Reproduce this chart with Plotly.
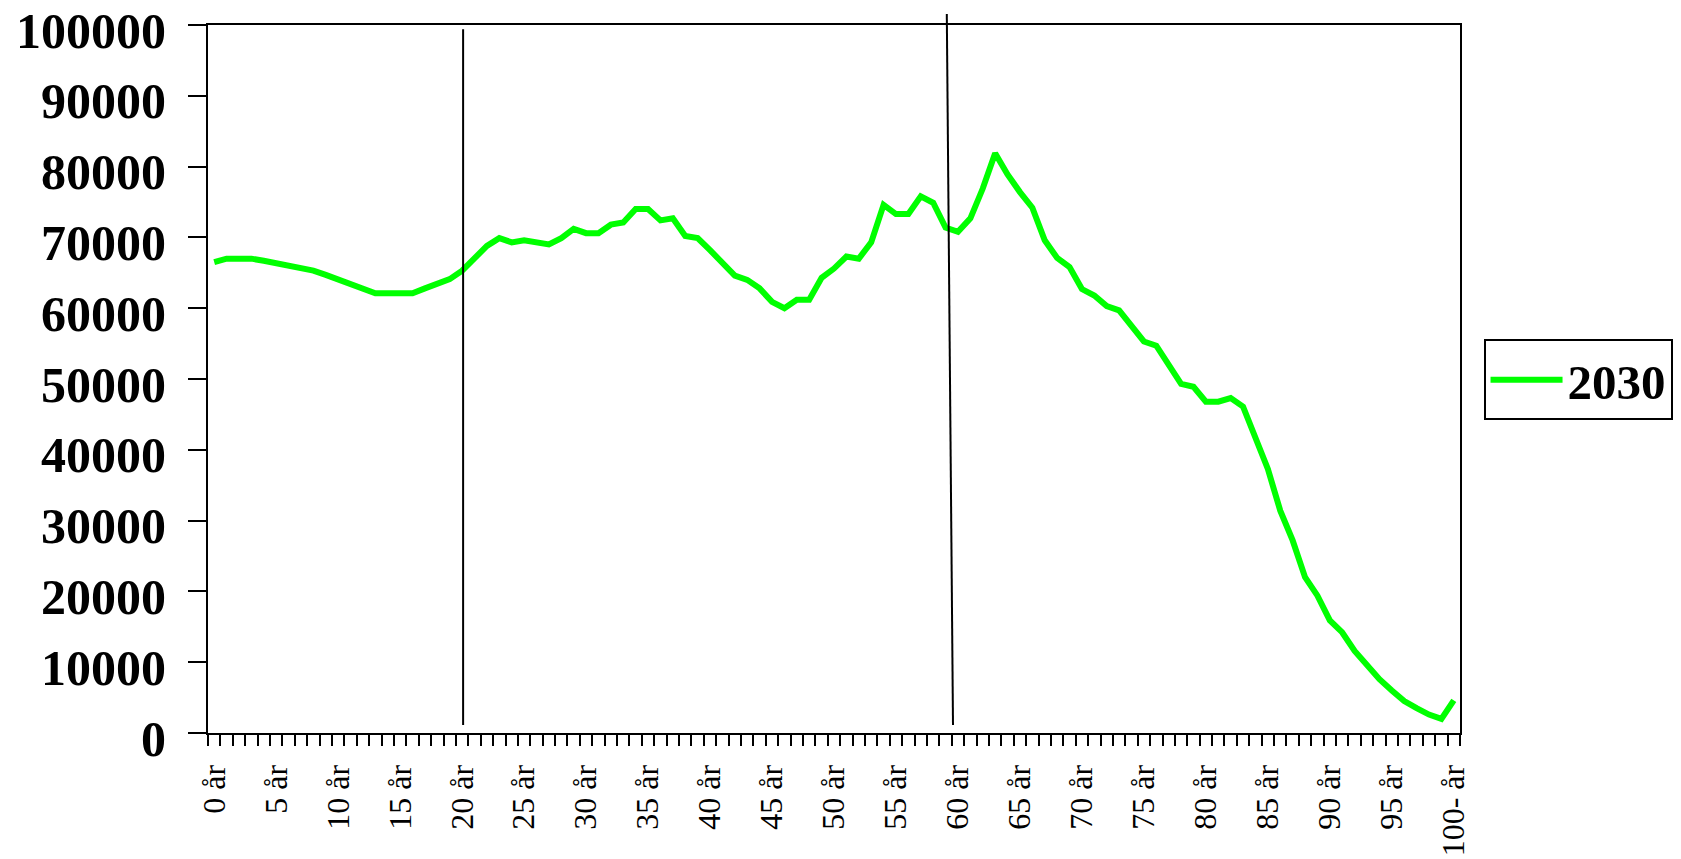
import plotly.graph_objects as go

# Age categories (tick labels)
ages = [f"{i} år" for i in range(100)] + ["100- år"]

# Population 2030 by age
pop_2030 = [
    66500, 67000, 67000, 67000, 66700, 66400, 66100, 65800, 65300, 64700,
    64100, 63400, 62800, 62100, 62100, 62100, 62100, 62800, 63400, 64100,
    65300, 67200, 68800, 69900, 69300, 69600, 69300, 69000, 69900, 71200,
    70600, 70600, 71800, 72100, 74000, 74000, 72400, 72700, 70200, 69900,
    68200, 66400, 64600, 64000, 62800, 60900, 60000, 61200, 61200, 64300,
    65600, 67300, 67000, 69300, 74600, 73300, 73300, 75800, 74900, 71400,
    70800, 72700, 76900, 81900, 78900, 76400, 74200, 69600, 67100, 65800,
    62700, 61800, 60300, 59700, 57500, 55300, 54700, 52000, 49300, 48900,
    46800, 46800, 47300, 46100, 41800, 37300, 31400, 27200, 22000, 19400,
    15900, 14200, 11600, 9600, 7600, 6000, 4500, 3500, 2600, 2000,
    4600,
]

y_ticks = [0, 10000, 20000, 30000, 40000, 50000, 60000, 70000, 80000, 90000, 100000]

series_name = "2030"
label_step = 5

x_idx = list(range(len(ages)))

fig = go.Figure()
fig.add_trace(go.Scatter(
    x=x_idx, y=pop_2030, mode="lines", name=series_name,
    line=dict(color="#00ff00", width=6),
    text=ages, hovertemplate="%{text}: %{y}<extra></extra>",
))

serif = "Liberation Serif, Times New Roman, serif"

# page body has an 8px default margin, so the figure is 8px smaller
fig.update_layout(
    width=1673, height=851,
    margin=dict(l=200, r=221, t=17, b=126, autoexpand=False),
    paper_bgcolor="white", plot_bgcolor="white",
    showlegend=True,
    legend=dict(
        x=1.0188, xanchor="left", y=0.556, yanchor="top",
        bordercolor="black", borderwidth=2, bgcolor="white",
        font=dict(family=serif, size=49, color="black", weight="bold"),
        itemwidth=72,
    ),
    xaxis=dict(
        range=[-0.5, len(ages) - 0.5], automargin=False,
        tickmode="array", tickvals=x_idx[::label_step], ticktext=ages[::label_step],
        tickangle=-90, ticks="outside", ticklen=0, tickcolor="black",
        tickfont=dict(family=serif, size=32, color="black"),
        ticklabelstandoff=17, ticklabeloverflow="allow",
        minor=dict(tick0=-0.5, dtick=1, ticks="outside", ticklen=11,
                   tickwidth=2, tickcolor="black", showgrid=False),
        showline=True, linecolor="black", linewidth=2, mirror=True,
        showgrid=False, zeroline=False, fixedrange=True,
    ),
    yaxis=dict(
        range=[0, 100000], automargin=False,
        tickmode="array", tickvals=y_ticks, ticktext=[str(v) for v in y_ticks],
        ticks="outside", ticklen=18, tickwidth=2, tickcolor="black",
        tickfont=dict(family=serif, size=50, color="black", weight="bold"),
        ticklabelstandoff=12, ticklabelshift=5, ticklabeloverflow="allow",
        showline=True, linecolor="black", linewidth=2, mirror=True,
        showgrid=False, zeroline=False, fixedrange=True,
    ),
)

# hand-drawn divider lines at 20 and ~60 years
fig.add_shape(type="line", xref="x", yref="paper",
              x0=20.08, x1=20.08, y0=0.0113, y1=0.994,
              line=dict(color="black", width=2))
fig.add_shape(type="line", xref="x", yref="paper",
              x0=59.6, x1=59.1, y0=0.0113, y1=1.0155,
              line=dict(color="black", width=2))

fig.write_html("out.html")
